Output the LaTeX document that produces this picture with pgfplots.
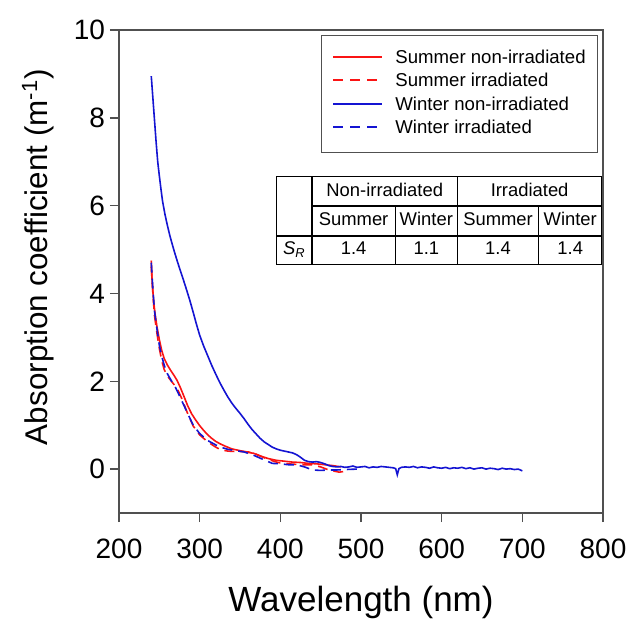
\documentclass[border=0pt]{standalone}
\usepackage{pgfplots}
\pgfplotsset{compat=1.18}
\usepackage{fontspec}
\setmainfont{Liberation Sans}
\usepackage{array}

\definecolor{sumred}{RGB}{250,20,20}
\definecolor{winblue}{RGB}{20,20,210}
\definecolor{axgray}{RGB}{80,80,80}

% legend keys made of coloured rules
\newcommand{\solidkey}[1]{\textcolor{#1}{\rule[0.3em]{24.5pt}{1pt}}}
\newcommand{\dashkey}[1]{\textcolor{#1}{\rule[0.3em]{5pt}{1pt}\hspace{3.5pt}\rule[0.3em]{5pt}{1pt}\hspace{3.5pt}\rule[0.3em]{5pt}{1pt}\hspace{2.5pt}}}

\begin{document}
\begin{tikzpicture}
\useasboundingbox (-59.5pt,-57.5pt) rectangle (258pt,256.5pt);
\begin{axis}[
  scale only axis,
  width=242pt, height=241.5pt,
  xmin=200, xmax=800, ymin=-1, ymax=10,
  xtick={200,300,...,800},
  ytick={0,2,...,10},
  tick align=outside,
  xtick pos=bottom, ytick pos=left,
  major tick length=4.5pt,
  axis line style={axgray, line width=0.7pt},
  tick style={axgray, line width=0.7pt},
  /pgf/number format/assume math mode=true,
  tick label style={font=\fontsize{14}{16}\selectfont},
  xticklabel style={yshift=-5pt},
  yticklabel style={xshift=1pt},
  xlabel={Wavelength (nm)},
  ylabel={Absorption coefficient (m\textsuperscript{-1})},
  xlabel style={font=\fontsize{17.5}{20}\selectfont, yshift=-7pt},
  ylabel style={font=\fontsize{15.7}{18}\selectfont, at={(ticklabel cs:0.53)}, yshift=3pt},
]
% Summer non-irradiated
\addplot[color=sumred, line width=0.8pt] coordinates {
(240,4.75)(241,4.3)(243,3.8)(245,3.5)(247,3.25)(250,2.95)(253,2.7)(256,2.52)
(260,2.37)(264,2.25)(268,2.14)(272,2.02)(276,1.86)(280,1.68)(285,1.45)(290,1.26)
(295,1.12)(300,0.99)(305,0.88)(310,0.78)(315,0.7)(320,0.63)(326,0.57)(332,0.52)
(340,0.46)(350,0.42)(360,0.38)(367,0.36)(375,0.3)(385,0.24)(395,0.2)(405,0.18)
(415,0.16)(425,0.15)(435,0.13)(445,0.12)(455,0.1)(465,0.08)(475,0.05)};
% Summer irradiated
\addplot[color=sumred, line width=0.8pt, dash pattern=on 5pt off 3pt] coordinates {
(240,4.6)(242,4.0)(244,3.5)(247,3.1)(250,2.75)(253,2.47)(256,2.27)(260,2.12)
(265,2.0)(272,1.84)(278,1.6)(285,1.27)(292,0.98)(300,0.78)(310,0.62)(320,0.5)
(326,0.44)(335,0.41)(345,0.4)(355,0.4)(365,0.38)(375,0.3)(385,0.22)(397,0.15)
(410,0.12)(425,0.1)(439,0.1)(450,0.05)(460,-0.02)(473,-0.07)(480,-0.05)};
% Winter non-irradiated
\addplot[color=winblue, line width=0.8pt] coordinates {
(240,8.95)(241,8.7)(242,8.45)(243,8.2)(244,7.95)(246,7.45)(248,7.0)(250,6.68)
(252,6.38)(254,6.1)(257,5.8)(260,5.55)(263,5.32)(266,5.12)(269,4.93)(272,4.75)
(276,4.52)(280,4.3)(284,4.07)(288,3.83)(292,3.57)(296,3.3)(300,3.05)(305,2.8)
(310,2.58)(315,2.36)(320,2.16)(325,1.97)(330,1.8)(335,1.64)(340,1.5)(345,1.38)
(350,1.27)(355,1.15)(360,1.02)(365,0.9)(370,0.8)(375,0.7)(380,0.62)(385,0.56)
(390,0.5)(395,0.46)(400,0.43)(405,0.41)(410,0.39)(415,0.37)(420,0.33)(425,0.27)
(430,0.2)(435,0.17)(440,0.16)(445,0.17)(450,0.15)(455,0.12)(460,0.08)(465,0.06)
(470,0.05)(475,0.06)(480,0.04)(485,0.05)(490,0.07)(495,0.04)(500,0.05)(505,0.06)
(510,0.03)(515,0.05)(520,0.04)(525,0.06)(530,0.05)(535,0.04)(540,0.03)(543,0.01)
(545,-0.13)(547,0.01)(550,0.04)(555,0.05)(560,0.04)(565,0.06)(570,0.03)(575,0.05)
(580,0.04)(585,0.02)(590,0.05)(595,0.03)(600,0.02)(605,0.04)(610,0.01)(615,0.03)
(620,0.02)(625,0.04)(630,0.01)(635,0.03)(640,0.0)(645,0.02)(650,0.03)(655,0.0)
(660,0.02)(665,0.01)(670,-0.01)(675,0.02)(680,0.0)(685,0.01)(690,-0.01)(695,0.0)
(700,-0.04)};
% Winter irradiated
\addplot[color=winblue, line width=0.8pt, dash pattern=on 5pt off 3pt] coordinates {
(240,4.7)(242,4.1)(244,3.6)(247,3.2)(250,2.82)(253,2.57)(256,2.37)(260,2.17)
(265,2.01)(270,1.86)(275,1.67)(280,1.47)(285,1.27)(292,1.0)(300,0.81)(310,0.65)
(320,0.55)(326,0.5)(335,0.45)(345,0.42)(355,0.39)(365,0.33)(375,0.25)(385,0.17)
(390,0.13)(400,0.12)(410,0.1)(420,0.1)(430,0.05)(440,-0.02)(450,-0.03)(460,-0.02)
(470,-0.02)(480,-0.01)(495,0.0)};

% legend
\node[anchor=north west, draw=axgray, line width=0.6pt, inner xsep=6pt, inner ysep=5.8pt,
  font=\fontsize{9.3}{11.7}\selectfont] at (rel axis cs:0.417,0.99) {%
  \begin{tabular}{@{}l@{\hspace{6.5pt}}l@{}}
  \solidkey{sumred} & Summer non-irradiated\\
  \dashkey{sumred} & Summer irradiated\\
  \solidkey{winblue} & Winter non-irradiated\\
  \dashkey{winblue} & Winter irradiated
  \end{tabular}};

% S_R table
\node[anchor=north west, inner sep=0pt, font=\fontsize{9.2}{11}\selectfont]
  at (rel axis cs:0.324,0.698) {%
  \setlength{\arrayrulewidth}{0.6pt}\setlength{\tabcolsep}{0pt}%
  \begin{tabular}{|>{\centering\arraybackslash}p{17pt}|>{\centering\arraybackslash}p{41pt}|>{\centering\arraybackslash}p{30.5pt}|>{\centering\arraybackslash}p{40pt}|>{\centering\arraybackslash}p{31pt}|}
  \hline
  \rule[-4.5pt]{0pt}{14pt} & \multicolumn{2}{c|}{Non-irradiated} & \multicolumn{2}{c|}{Irradiated}\\
  \cline{2-5}
  \rule[-5pt]{0pt}{15pt} & Summer & Winter & Summer & Winter\\
  \hline
  \rule[-4.5pt]{0pt}{13.5pt}\textit{S\textsubscript{R}} & 1.4 & 1.1 & 1.4 & 1.4\\
  \hline
  \end{tabular}};
\end{axis}
\end{tikzpicture}
\end{document}
